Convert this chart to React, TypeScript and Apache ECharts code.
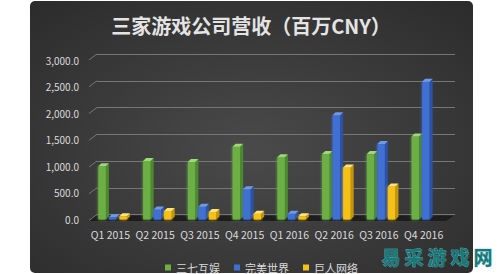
import React, { useEffect, useRef } from "react";
import * as echarts from "echarts";

const categories = ["Q1 2015", "Q2 2015", "Q3 2015", "Q4 2015", "Q1 2016", "Q2 2016", "Q3 2016", "Q4 2016"];
const seriesNames = ["三七互娱", "完美世界", "巨人网络"];
const sanqi = [1000, 1100, 1080, 1370, 1170, 1230, 1230, 1560];
const wanmei = [40, 190, 240, 570, 110, 1960, 1420, 2590];
const juren: (number | null)[] = [60, 160, 140, 110, 60, 980, 620, null];
const yTicks = [0, 500, 1000, 1500, 2000, 2500, 3000];
const titleText = "三家游戏公司营收（百万CNY）";
const watermarkText = "易采游戏网";

const palette = [
  { front: "#6cb044", top: "#9fd77a", side: "#4c8a2f" },
  { front: "#3f6fd2", top: "#7199e6", side: "#2c52a4" },
  { front: "#f6c119", top: "#ffe27a", side: "#c69608" },
];

const FONT = '"Noto Sans CJK SC", "Noto Sans", sans-serif';

function makeBarRender(k: number) {
  return (params: any, api: any) => {
    const idx = api.value(0);
    const v = api.value(1);
    if (v == null || isNaN(v)) return null;
    const top = api.coord([idx, v]);
    const base = api.coord([idx, 0]);
    const band = api.size([1, 0])[0];
    const fw = band * 0.168;
    const dx = band * 0.067;
    const dy = 3;
    const slot = fw + dx;
    const x0 = base[0] - band * 0.268 + k * slot;
    const c = palette[k];
    const yt = top[1];
    const yb = base[1];
    return {
      type: "group",
      children: [
        {
          type: "rect",
          shape: { x: x0, y: yt, width: fw, height: yb - yt },
          style: { fill: c.front, shadowBlur: 3, shadowColor: c.front },
        },
        {
          type: "polygon",
          shape: { points: [[x0 + fw, yt], [x0 + fw + dx, yt - dy], [x0 + fw + dx, yb - dy], [x0 + fw, yb]] },
          style: { fill: c.side },
        },
        {
          type: "polygon",
          shape: { points: [[x0, yt], [x0 + dx, yt - dy], [x0 + fw + dx, yt - dy], [x0 + fw, yt]] },
          style: { fill: c.top },
        },
      ],
    };
  };
}

export default function App() {
  const ref = useRef<HTMLDivElement>(null);
  useEffect(() => {
    document.body.style.margin = "0";
    const chart = echarts.init(ref.current!, null, { renderer: "svg" });
    const seriesData = [sanqi, wanmei, juren];

    const barSeries = seriesData.map((arr, k) => ({
      type: "custom",
      name: seriesNames[k],
      xAxisIndex: 0,
      yAxisIndex: 0,
      z: 5,
      itemStyle: { color: palette[k].front },
      renderItem: makeBarRender(k),
      encode: { x: 0, y: 1 },
      data: arr.map((v, i) => [i, v == null ? NaN : v]),
    }));

    const option: any = {
      animation: false,
      color: palette.map((p) => p.front),
      textStyle: { fontFamily: FONT },
      title: {
        text: titleText,
        left: 246,
        top: 10,
        textAlign: "center",
        textStyle: { color: "#e4e4e4", fontSize: 20, fontWeight: "bold", fontFamily: FONT },
      },
      legend: {
        data: seriesNames,
        left: 160,
        top: 257,
        icon: "rect",
        itemWidth: 6,
        itemHeight: 6,
        itemGap: 14,
        textStyle: { color: "#dadada", fontSize: 11, fontFamily: FONT },
      },
      grid: [
        { left: 88, right: 54, top: 60, bottom: 54.5 },
        { left: 97, right: 45, top: 54, bottom: 59.5 },
      ],
      xAxis: [
        {
          type: "category",
          gridIndex: 0,
          data: categories,
          axisLine: { show: false },
          axisTick: { show: false },
          axisLabel: { color: "#dadada", fontSize: 10.5, margin: 10, interval: 0, fontFamily: FONT },
        },
        {
          type: "category",
          gridIndex: 1,
          data: categories,
          show: false,
        },
      ],
      yAxis: [
        {
          type: "value",
          gridIndex: 0,
          min: yTicks[0],
          max: yTicks[yTicks.length - 1],
          interval: yTicks[1] - yTicks[0],
          axisLine: { show: false },
          axisTick: { show: false },
          splitLine: { show: false },
          axisLabel: {
            color: "#dadada",
            fontSize: 10,
            margin: 9,
            fontFamily: FONT,
            formatter: (v: number) =>
              v.toLocaleString("en-US", { minimumFractionDigits: 1, maximumFractionDigits: 1 }),
          },
        },
        {
          type: "value",
          gridIndex: 1,
          min: yTicks[0],
          max: yTicks[yTicks.length - 1],
          interval: yTicks[1] - yTicks[0],
          axisLine: { show: false },
          axisTick: { show: false },
          axisLabel: { show: false },
          splitLine: { show: true, lineStyle: { color: "#767676", width: 1 } },
        },
      ],
      graphic: [
        {
          type: "rect",
          z: -10,
          silent: true,
          shape: { x: 30, y: 1, width: 443, height: 272, r: 5 },
          style: {
            fill: new echarts.graphic.RadialGradient(0.5, 0.55, 0.75, [
              { offset: 0, color: "#4a4a4a" },
              { offset: 1, color: "#2b2b2b" },
            ]),
          },
        },
        {
          type: "group",
          z: 100,
          silent: true,
          children: watermarkText.split("").map((ch, i) => ({
            type: "text",
            x: 391 + i * 23,
            y: 256,
            style: {
              text: ch,
              font: `bold 19px ${FONT}`,
              fill: "#17797b",
              stroke: "#6cc0c0",
              lineWidth: 0.6,
              align: "center",
              verticalAlign: "middle",
            },
          })),
        },
      ],
      series: [
        {
          type: "custom",
          name: "floor",
          xAxisIndex: 0,
          yAxisIndex: 0,
          z: 3,
          silent: true,
          encode: { x: 0, y: 1 },
          data: categories.map((_, i) => [i, 0]),
          renderItem: (params: any, api: any) => {
            const p = api.coord([api.value(0), 0]);
            const band = api.size([1, 0])[0];
            const xl = p[0] - band / 2;
            const xr = p[0] + band / 2;
            const y0 = p[1];
            return {
              type: "polygon",
              shape: { points: [[xl, y0 + 1.5], [xl + 8, y0 - 4], [xr + 8, y0 - 4], [xr, y0 + 1.5]] },
              style: { fill: "#1d1d1d" },
            };
          },
        },
        {
          type: "custom",
          name: "ticks",
          xAxisIndex: 1,
          yAxisIndex: 1,
          z: 3,
          silent: true,
          encode: { x: 0, y: 1 },
          data: yTicks.map((t) => [0, t]),
          renderItem: (params: any, api: any) => {
            const p = api.coord([0, api.value(1)]);
            const band = api.size([1, 0])[0];
            const x = p[0] - band / 2;
            return {
              type: "line",
              shape: { x1: x - 8, y1: p[1] + 6, x2: x, y2: p[1] },
              style: { stroke: "#767676", lineWidth: 1 },
            };
          },
        },
        ...barSeries,
      ],
    };
    chart.setOption(option);
    return () => chart.dispose();
  }, []);
  return <div ref={ref} style={{ width: 500, height: 274 }} />;
}
